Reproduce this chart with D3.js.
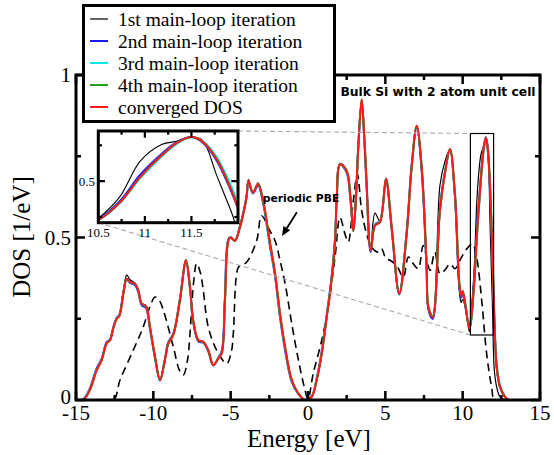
<!DOCTYPE html>
<html>
<head>
<meta charset="utf-8">
<script src="https://cdn.jsdelivr.net/npm/d3@7/dist/d3.min.js"></script>
<style>
  html, body { margin: 0; padding: 0; background: #fff; }
  svg { display: block; }
</style>
</head>
<body>
<svg id="chart" width="554" height="455"></svg>
<script>
// ---------------- data ----------------
const energy = [-15, -14.6, -14.42, -14.1, -13.66, -13.34, -13.02, -12.8, -12.59, -12.37, -12.2, -11.94, -11.72, -11.51, -11.19, -10.97, -10.76, -10.47, -10.22, -9.89, -9.57, -9.25, -9.03, -8.71, -8.28, -7.89, -7.63, -7.42, -7.09, -6.77, -6.45, -6.12, -5.8, -5.58, -5.37, -5.15, -5.0, -4.72, -4.4, -4.18, -3.97, -3.85, -3.56, -3.23, -2.9, -2.48, -2.13, -1.81, -1.48, -1.05, -0.62, -0.19, 0.24, 0.56, 0.89, 1.21, 1.5, 1.75, 1.86, 2.07, 2.5, 2.75, 2.93, 3.1, 3.25, 3.47, 3.65, 3.79, 4.05, 4.33, 4.65, 5.04, 5.41, 5.9, 6.38, 6.7, 7.03, 7.35, 7.67, 7.78, 8.06, 8.53, 8.86, 9.18, 9.5, 9.78, 9.9, 10.0, 10.15, 10.43, 10.5, 10.73, 10.95, 11.18, 11.35, 11.5, 11.62, 11.77, 11.92, 12.05, 12.2, 12.41, 12.73, 13.0, 15];

const dosConverged = [0, 0, 0.005, 0.031, 0.092, 0.123, 0.174, 0.184, 0.22, 0.25, 0.258, 0.327, 0.373, 0.363, 0.358, 0.337, 0.297, 0.288, 0.225, 0.133, 0.061, 0.123, 0.174, 0.2, 0.307, 0.43, 0.348, 0.245, 0.184, 0.179, 0.153, 0.107, 0.128, 0.143, 0.307, 0.49, 0.5, 0.49, 0.532, 0.573, 0.625, 0.675, 0.638, 0.665, 0.613, 0.49, 0.39, 0.266, 0.163, 0.061, 0.02, 0, 0.01, 0.061, 0.143, 0.255, 0.36, 0.49, 0.62, 0.725, 0.705, 0.62, 0.52, 0.62, 0.777, 0.925, 0.8, 0.665, 0.46, 0.537, 0.547, 0.68, 0.532, 0.327, 0.511, 0.716, 0.844, 0.716, 0.409, 0.286, 0.255, 0.583, 0.7, 0.772, 0.634, 0.36, 0.32, 0.335, 0.3, 0.22, 0.23, 0.35, 0.53, 0.68, 0.77, 0.808, 0.775, 0.654, 0.45, 0.245, 0.102, 0.041, 0.01, 0, 0];

const dos1st = [0, 0, 0.006, 0.033, 0.094, 0.125, 0.176, 0.186, 0.222, 0.252, 0.262, 0.335, 0.385, 0.37, 0.36, 0.338, 0.298, 0.29, 0.226, 0.134, 0.062, 0.124, 0.175, 0.201, 0.308, 0.432, 0.349, 0.246, 0.185, 0.18, 0.154, 0.108, 0.129, 0.144, 0.31, 0.495, 0.502, 0.49, 0.535, 0.575, 0.63, 0.678, 0.64, 0.668, 0.615, 0.49, 0.388, 0.262, 0.16, 0.06, 0.02, 0, 0.01, 0.06, 0.14, 0.252, 0.36, 0.495, 0.63, 0.728, 0.708, 0.625, 0.53, 0.63, 0.78, 0.92, 0.8, 0.67, 0.47, 0.575, 0.55, 0.672, 0.53, 0.33, 0.515, 0.72, 0.84, 0.71, 0.4, 0.28, 0.25, 0.66, 0.735, 0.772, 0.62, 0.34, 0.3, 0.31, 0.29, 0.21, 0.24, 0.39, 0.64, 0.755, 0.78, 0.81, 0.785, 0.542, 0.3, 0.09, 0.04, 0.01, 0, 0, 0];

const dos2nd = [0, 0, 0.008, 0.036, 0.098, 0.127, 0.178, 0.186, 0.224, 0.253, 0.262, 0.33, 0.372, 0.36, 0.354, 0.332, 0.292, 0.283, 0.22, 0.128, 0.06, 0.127, 0.178, 0.204, 0.312, 0.428, 0.342, 0.24, 0.18, 0.176, 0.15, 0.106, 0.13, 0.15, 0.315, 0.495, 0.5, 0.49, 0.535, 0.577, 0.628, 0.672, 0.635, 0.66, 0.605, 0.48, 0.38, 0.255, 0.152, 0.055, 0.018, 0, 0.012, 0.066, 0.15, 0.262, 0.368, 0.5, 0.63, 0.725, 0.7, 0.612, 0.52, 0.625, 0.78, 0.92, 0.79, 0.655, 0.455, 0.54, 0.55, 0.675, 0.525, 0.325, 0.52, 0.722, 0.84, 0.705, 0.4, 0.28, 0.25, 0.59, 0.705, 0.77, 0.625, 0.35, 0.315, 0.33, 0.295, 0.222, 0.235, 0.36, 0.545, 0.69, 0.775, 0.808, 0.77, 0.645, 0.44, 0.24, 0.1, 0.04, 0.01, 0, 0];

const dos3rd = [0, 0, 0.006, 0.033, 0.094, 0.124, 0.175, 0.185, 0.221, 0.251, 0.259, 0.328, 0.373, 0.362, 0.357, 0.336, 0.296, 0.287, 0.224, 0.132, 0.061, 0.124, 0.175, 0.201, 0.309, 0.43, 0.347, 0.244, 0.183, 0.178, 0.152, 0.107, 0.129, 0.146, 0.31, 0.492, 0.5, 0.49, 0.533, 0.575, 0.626, 0.674, 0.637, 0.664, 0.61, 0.486, 0.386, 0.262, 0.159, 0.059, 0.019, 0, 0.011, 0.063, 0.146, 0.258, 0.363, 0.494, 0.624, 0.725, 0.704, 0.618, 0.52, 0.622, 0.778, 0.923, 0.8, 0.668, 0.462, 0.538, 0.548, 0.682, 0.536, 0.33, 0.513, 0.718, 0.844, 0.72, 0.414, 0.29, 0.258, 0.585, 0.7, 0.772, 0.638, 0.366, 0.324, 0.338, 0.303, 0.223, 0.228, 0.345, 0.522, 0.672, 0.764, 0.806, 0.78, 0.67, 0.475, 0.265, 0.112, 0.046, 0.012, 0, 0];

const dos4th = [0, 0, 0.005, 0.031, 0.092, 0.123, 0.174, 0.184, 0.22, 0.25, 0.258, 0.327, 0.373, 0.363, 0.358, 0.337, 0.297, 0.288, 0.225, 0.133, 0.061, 0.123, 0.174, 0.2, 0.307, 0.43, 0.348, 0.245, 0.184, 0.179, 0.153, 0.107, 0.128, 0.143, 0.307, 0.49, 0.5, 0.49, 0.532, 0.573, 0.625, 0.675, 0.638, 0.665, 0.613, 0.49, 0.39, 0.266, 0.163, 0.061, 0.02, 0, 0.01, 0.061, 0.143, 0.255, 0.36, 0.49, 0.62, 0.725, 0.705, 0.62, 0.52, 0.62, 0.777, 0.925, 0.8, 0.665, 0.46, 0.537, 0.547, 0.68, 0.532, 0.327, 0.511, 0.716, 0.844, 0.716, 0.409, 0.286, 0.255, 0.583, 0.7, 0.772, 0.634, 0.36, 0.32, 0.335, 0.3, 0.22, 0.23, 0.35, 0.53, 0.68, 0.77, 0.808, 0.775, 0.654, 0.45, 0.245, 0.102, 0.041, 0.01, 0, 0];

const pbeEnergy = [-15, -12.6, -12.16, -11.3, -10.65, -10.2, -9.89, -9.6, -9.35, -8.71, -8.3, -8.06, -7.8, -7.63, -7.4, -7.2, -6.95, -6.77, -6.45, -5.9, -5.26, -4.95, -4.83, -4.5, -4.29, -3.97, -3.32, -3.0, -2.46, -2.13, -1.81, -1.48, -1.05, -0.62, -0.19, 0.0, 0.34, 0.89, 1.31, 1.75, 2.07, 2.39, 2.6, 2.93, 3.19, 3.47, 3.79, 4.12, 4.55, 4.76, 5.04, 5.3, 5.73, 6.16, 6.49, 6.81, 7.13, 7.45, 7.89, 8.2, 8.53, 8.85, 9.18, 9.5, 9.82, 10.26, 10.64, 10.9, 11.23, 11.55, 11.87, 12.1, 15];
const pbeDos = [0, 0, 0.061, 0.153, 0.225, 0.29, 0.317, 0.305, 0.276, 0.164, 0.09, 0.077, 0.12, 0.204, 0.36, 0.42, 0.39, 0.337, 0.225, 0.153, 0.112, 0.15, 0.204, 0.409, 0.414, 0.424, 0.49, 0.567, 0.52, 0.49, 0.43, 0.358, 0.235, 0.123, 0.03, 0.003, 0.082, 0.184, 0.286, 0.44, 0.562, 0.511, 0.486, 0.613, 0.695, 0.583, 0.511, 0.47, 0.455, 0.465, 0.435, 0.43, 0.414, 0.378, 0.44, 0.419, 0.404, 0.475, 0.399, 0.455, 0.389, 0.4, 0.419, 0.404, 0.43, 0.465, 0.48, 0.44, 0.307, 0.143, 0.041, 0, 0];

const seriesNames = ["1st main-loop iteration", "2nd main-loop iteration", "3rd main-loop iteration", "4th main-loop iteration", "converged DOS"];
const seriesColors = ["#000000", "#1a1aff", "#00e8e8", "#1fa31f", "#ff1a1a"];
const seriesValues = [dos1st, dos2nd, dos3rd, dos4th, dosConverged];

const xTicks = [-15, -10, -5, 0, 5, 10, 15];
const xMinorTicks = [-12.5, -7.5, -2.5, 2.5, 7.5, 12.5];
const yTicks = [0, 0.5, 1];
const yTickLabels = ["0", "0.5", "1"];
const yMinorTicks = [0.25, 0.75];

const insetXTicks = [10.5, 11, 11.5];
const insetXMinor = [10.75, 11.25, 11.75];
const insetYTicks = [0.5];
const insetYMinor = [0.25, 0.75];

const zoomBox = { x0: 10.5, x1: 12, y0: 0.2, y1: 0.82 };
const arrowFrom = [-0.72, 0.578];
const arrowTo = [-1.68, 0.505];

// ---------------- drawing ----------------
const svg = d3.select("#chart");
const serif = "'Liberation Serif', 'Times New Roman', serif";
const sans = "'DejaVu Sans', Verdana, sans-serif";

const x = d3.scaleLinear().domain([-15, 15]).range([76, 540]);
const y = d3.scaleLinear().domain([0, 1]).range([400, 75]);

svg.append("defs").append("clipPath").attr("id", "mainclip")
  .append("rect").attr("x", 76).attr("y", 75).attr("width", 464).attr("height", 325);

const curve = d3.curveCatmullRom.alpha(0.5);
const lineMain = d3.line().x(d => x(d[0])).y(d => y(d[1])).curve(curve);

const gMain = svg.append("g").attr("clip-path", "url(#mainclip)");

// dashed PBE
gMain.append("path")
  .datum(pbeEnergy.map((e, i) => [e, pbeDos[i]]))
  .attr("d", lineMain).attr("fill", "none")
  .attr("stroke", "#000").attr("stroke-width", 1.6).attr("stroke-dasharray", "8,5");

// iteration series
seriesValues.forEach((vals, k) => {
  gMain.append("path")
    .datum(energy.map((e, i) => [e, vals[i]]))
    .attr("d", lineMain).attr("fill", "none")
    .attr("stroke", seriesColors[k])
    .attr("stroke-width", k === 0 ? 1.2 : 2)
    .attr("stroke-linejoin", "round");
});

// zoom rectangle
svg.append("rect")
  .attr("x", x(zoomBox.x0)).attr("y", y(zoomBox.y1))
  .attr("width", x(zoomBox.x1) - x(zoomBox.x0)).attr("height", y(zoomBox.y0) - y(zoomBox.y1))
  .attr("fill", "none").attr("stroke", "#000").attr("stroke-width", 1.2);

// main frame
svg.append("rect").attr("x", 76).attr("y", 75).attr("width", 464).attr("height", 325)
  .attr("fill", "none").attr("stroke", "#000").attr("stroke-width", 3);

const ticks = svg.append("g").attr("stroke", "#000").attr("stroke-width", 2.5);
xTicks.forEach(t => {
  ticks.append("line").attr("x1", x(t)).attr("x2", x(t)).attr("y1", 400).attr("y2", 391);
  ticks.append("line").attr("x1", x(t)).attr("x2", x(t)).attr("y1", 75).attr("y2", 84);
});
xMinorTicks.forEach(t => {
  ticks.append("line").attr("x1", x(t)).attr("x2", x(t)).attr("y1", 400).attr("y2", 395);
  ticks.append("line").attr("x1", x(t)).attr("x2", x(t)).attr("y1", 75).attr("y2", 80);
});
yTicks.forEach(t => {
  ticks.append("line").attr("x1", 76).attr("x2", 85).attr("y1", y(t)).attr("y2", y(t));
  ticks.append("line").attr("x1", 540).attr("x2", 531).attr("y1", y(t)).attr("y2", y(t));
});
yMinorTicks.forEach(t => {
  ticks.append("line").attr("x1", 76).attr("x2", 81).attr("y1", y(t)).attr("y2", y(t));
  ticks.append("line").attr("x1", 540).attr("x2", 535).attr("y1", y(t)).attr("y2", y(t));
});

// tick labels
xTicks.forEach(t => {
  svg.append("text").attr("x", x(t)).attr("y", 420)
    .attr("text-anchor", "middle").attr("font-family", serif).attr("font-size", 21)
    .text(t < 0 ? "-" + Math.abs(t) : String(t));
});
yTicks.forEach((t, i) => {
  svg.append("text").attr("x", 71).attr("y", y(t) + (t === 0 ? 4 : 7))
    .attr("text-anchor", "end").attr("font-family", serif).attr("font-size", 21)
    .text(yTickLabels[i]);
});

// axis titles
svg.append("text").attr("x", 309).attr("y", 447).attr("text-anchor", "middle")
  .attr("font-family", serif).attr("font-size", 25).text("Energy [eV]");
svg.append("text").attr("transform", "translate(30,237) rotate(-90)").attr("text-anchor", "middle")
  .attr("font-family", serif).attr("font-size", 25).text("DOS [1/eV]");

// annotations
svg.append("text").attr("x", 438).attr("y", 96).attr("text-anchor", "middle")
  .attr("font-family", sans).attr("font-weight", "bold").attr("font-size", 12.3)
  .text("Bulk Si with 2 atom unit cell");
svg.append("text").attr("x", 301).attr("y", 202).attr("text-anchor", "middle")
  .attr("font-family", sans).attr("font-weight", "bold").attr("font-size", 10.8)
  .text("periodic PBE");

// arrow
const ax0 = x(arrowFrom[0]), ay0 = y(arrowFrom[1]), ax1 = x(arrowTo[0]), ay1 = y(arrowTo[1]);
const ang = Math.atan2(ay1 - ay0, ax1 - ax0);
const hl = 9, hw = 4;
const bx = ax1 - hl * Math.cos(ang), by = ay1 - hl * Math.sin(ang);
svg.append("line").attr("x1", ax0).attr("y1", ay0).attr("x2", bx).attr("y2", by)
  .attr("stroke", "#000").attr("stroke-width", 1.8);
svg.append("path")
  .attr("d", `M${ax1},${ay1} L${bx + hw * Math.sin(ang)},${by - hw * Math.cos(ang)} L${bx - hw * Math.sin(ang)},${by + hw * Math.cos(ang)} Z`)
  .attr("fill", "#000");

// ---------------- inset ----------------
const ix = d3.scaleLinear().domain([10.5, 12]).range([98.3, 238]);
const iy = d3.scaleLinear().domain([0.21, 0.85]).range([222.7, 131]);

// gray connector lines
const gl = svg.append("g").attr("stroke", "#aaa").attr("stroke-width", 1.1).attr("stroke-dasharray", "5,3");
gl.append("line").attr("x1", ix(12)).attr("y1", iy(0.85)).attr("x2", x(zoomBox.x0)).attr("y2", y(zoomBox.y1));
gl.append("line").attr("x1", ix(10.5)).attr("y1", iy(0.21)).attr("x2", x(zoomBox.x0)).attr("y2", y(zoomBox.y0));

svg.append("rect").attr("x", 98.3).attr("y", 131).attr("width", 139.7).attr("height", 91.7).attr("fill", "#fff");
svg.select("defs").append("clipPath").attr("id", "insetclip")
  .append("rect").attr("x", 98.3).attr("y", 131).attr("width", 139.7).attr("height", 91.7);
const lineInset = d3.line().x(d => ix(d[0])).y(d => iy(d[1])).curve(curve);
const gIn = svg.append("g").attr("clip-path", "url(#insetclip)");
seriesValues.forEach((vals, k) => {
  gIn.append("path")
    .datum(energy.map((e, i) => [e, vals[i]]))
    .attr("d", lineInset).attr("fill", "none")
    .attr("stroke", seriesColors[k]).attr("stroke-width", k === 0 ? 1.1 : 2);
});
svg.append("rect").attr("x", 98.3).attr("y", 131).attr("width", 139.7).attr("height", 91.7)
  .attr("fill", "none").attr("stroke", "#000").attr("stroke-width", 3);
const it = svg.append("g").attr("stroke", "#000").attr("stroke-width", 2.2);
insetXTicks.forEach(t => {
  it.append("line").attr("x1", ix(t)).attr("x2", ix(t)).attr("y1", 222.7).attr("y2", 216);
  it.append("line").attr("x1", ix(t)).attr("x2", ix(t)).attr("y1", 131).attr("y2", 137.7);
});
insetXMinor.forEach(t => {
  it.append("line").attr("x1", ix(t)).attr("x2", ix(t)).attr("y1", 222.7).attr("y2", 219);
  it.append("line").attr("x1", ix(t)).attr("x2", ix(t)).attr("y1", 131).attr("y2", 134.7);
});
insetYTicks.forEach(t => {
  it.append("line").attr("x1", 98.3).attr("x2", 105).attr("y1", iy(t)).attr("y2", iy(t));
  it.append("line").attr("x1", 238).attr("x2", 231.3).attr("y1", iy(t)).attr("y2", iy(t));
});
insetYMinor.forEach(t => {
  it.append("line").attr("x1", 98.3).attr("x2", 102).attr("y1", iy(t)).attr("y2", iy(t));
  it.append("line").attr("x1", 238).attr("x2", 234.3).attr("y1", iy(t)).attr("y2", iy(t));
});
insetXTicks.forEach(t => {
  svg.append("text").attr("x", ix(t)).attr("y", 237).attr("text-anchor", "middle")
    .attr("font-family", serif).attr("font-size", 13).text(String(t));
});
insetYTicks.forEach(t => {
  svg.append("text").attr("x", 95).attr("y", iy(t) + 4.5).attr("text-anchor", "end")
    .attr("font-family", serif).attr("font-size", 13).text(String(t));
});

// ---------------- legend ----------------
const lg = svg.append("g");
lg.append("rect").attr("x", 83.5).attr("y", 5.5).attr("width", 251).attr("height", 116)
  .attr("fill", "#fff").attr("stroke", "#000").attr("stroke-width", 3);
seriesNames.forEach((name, k) => {
  const ly = 19 + k * 22;
  lg.append("line").attr("x1", 90).attr("x2", 108).attr("y1", ly).attr("y2", ly)
    .attr("stroke", seriesColors[k]).attr("stroke-width", k === 0 ? 1.2 : 2);
  lg.append("text").attr("x", 118).attr("y", ly + 6.5)
    .attr("font-family", serif).attr("font-size", 19.5).text(name);
});
</script>
</body>
</html>
